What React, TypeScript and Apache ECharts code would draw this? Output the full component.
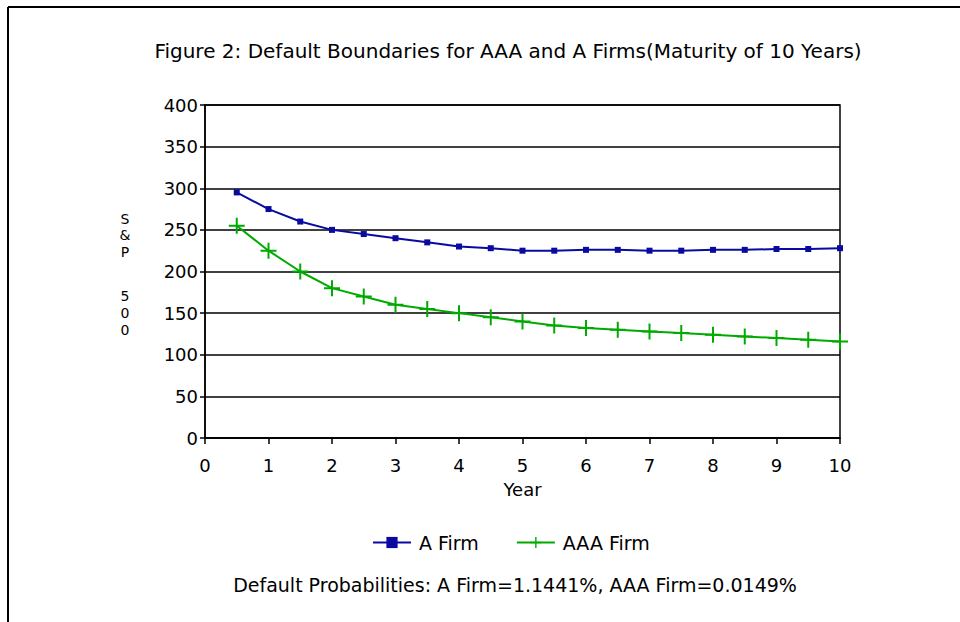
import React, { useEffect, useRef } from "react";
import * as echarts from "echarts";

const years = [0.5, 1, 1.5, 2, 2.5, 3, 3.5, 4, 4.5, 5, 5.5, 6, 6.5, 7, 7.5, 8, 8.5, 9, 9.5, 10];
const aFirm = [295, 275, 260, 250, 245, 240, 235, 230, 228, 225, 225, 226, 226, 225, 225, 226, 226, 227, 227, 228];
const aaaFirm = [255, 225, 200, 180, 170, 160, 155, 150, 145, 140, 135, 132, 130, 128, 126, 124, 122, 120, 118, 116];
const seriesNames = ["A Firm", "AAA Firm"];
const titleText = "Figure 2: Default Boundaries for AAA and A Firms(Maturity of 10 Years)";
const footText = "Default Probabilities: A Firm=1.1441%, AAA Firm=0.0149%";
const yNameTop = ["S", "&", "P"];
const yNameBottom = ["5", "0", "0"];

const FONT = "'DejaVu Sans', 'Liberation Sans', sans-serif";
const PLUS = "path://M7,0H9V7H16V9H9V16H7V9H0V7H7Z";

export default function App() {
  const ref = useRef<HTMLDivElement>(null);
  useEffect(() => {
    document.body.style.margin = "0";
    const chart = echarts.init(ref.current!, null, { renderer: "svg" });
    chart.setOption({
      animation: false,
      backgroundColor: "#fff",
      title: {
        text: titleText,
        left: 503,
        textAlign: "center",
        top: 36,
        textStyle: { fontFamily: FONT, fontSize: 20, fontWeight: "normal", color: "#000" },
      },
      grid: { left: 205, right: 120, top: 105, bottom: 184, show: true, borderColor: "#000", borderWidth: 1.5, backgroundColor: "transparent" },
      legend: {
        left: 372,
        top: 533,
        padding: 0,
        itemWidth: 38,
        itemHeight: 14,
        itemGap: 37,
        textStyle: { fontFamily: FONT, fontSize: 19, color: "#000", padding: [0, 0, 0, 3] },
        data: seriesNames,
      },
      xAxis: {
        type: "value",
        min: 0,
        max: 10,
        interval: 1,
        name: "Year",
        nameLocation: "middle",
        nameGap: 42,
        nameTextStyle: { fontFamily: FONT, fontSize: 18, color: "#000" },
        axisLine: { show: true, lineStyle: { color: "#000", width: 1.5 } },
        axisTick: { show: true, length: 6, lineStyle: { color: "#000", width: 1.5 } },
        axisLabel: { fontFamily: FONT, fontSize: 18, color: "#000", margin: 18 },
        splitLine: { show: false },
      },
      yAxis: {
        type: "value",
        min: 0,
        max: 400,
        interval: 50,
        axisLine: { show: true, lineStyle: { color: "#000", width: 1.5 } },
        axisTick: { show: true, length: 5, lineStyle: { color: "#000", width: 1.5 } },
        axisLabel: { fontFamily: FONT, fontSize: 18, color: "#000", margin: 7 },
        splitLine: { show: true, lineStyle: { color: "#000", width: 1.5 } },
      },
      series: [
        {
          name: seriesNames[0],
          type: "line",
          data: years.map((x, i) => [x, aFirm[i]]),
          symbol: "rect",
          symbolSize: 6,
          itemStyle: { color: "#0A0AA0" },
          lineStyle: { color: "#0A0AA0", width: 2 },
        },
        {
          name: seriesNames[1],
          type: "line",
          data: years.map((x, i) => [x, aaaFirm[i]]),
          symbol: PLUS,
          symbolSize: 16,
          itemStyle: { color: "#00AA00" },
          lineStyle: { color: "#00AA00", width: 2 },
        },
      ],
      graphic: [
        { type: "line", shape: { x1: 8, y1: 7, x2: 960, y2: 7 }, style: { stroke: "#000", lineWidth: 2 } },
        { type: "line", shape: { x1: 8, y1: 7, x2: 8, y2: 622 }, style: { stroke: "#000", lineWidth: 2 } },
        {
          type: "text",
          x: 125,
          y: 235,
          style: { text: yNameTop.join("\n"), font: `14px ${FONT}`, lineHeight: 16.5, fill: "#000", align: "center", verticalAlign: "middle" },
        },
        {
          type: "text",
          x: 125,
          y: 313,
          style: { text: yNameBottom.join("\n"), font: `14px ${FONT}`, lineHeight: 17, fill: "#000", align: "center", verticalAlign: "middle" },
        },
        {
          type: "text",
          x: 515,
          y: 585,
          style: { text: footText, font: `19px ${FONT}`, fill: "#000", align: "center", verticalAlign: "middle" },
        },
      ],
    });
    return () => chart.dispose();
  }, []);
  return <div ref={ref} style={{ width: 960, height: 622 }} />;
}
